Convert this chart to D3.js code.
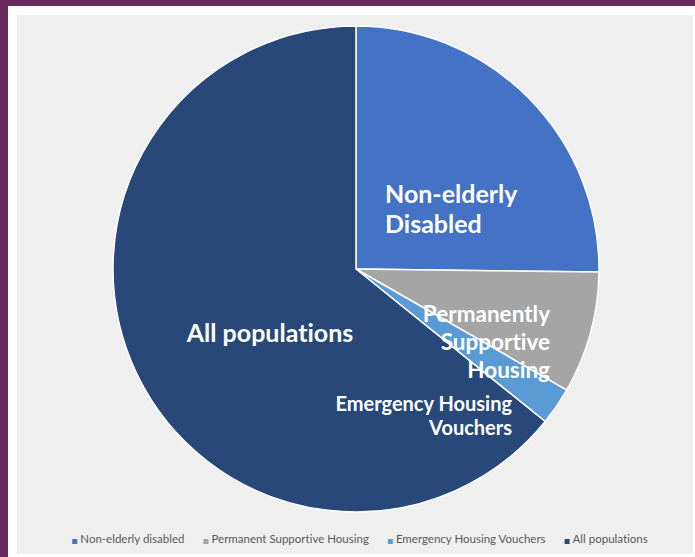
<!DOCTYPE html>
<html>
<head>
<meta charset="utf-8">
<script src="https://cdn.jsdelivr.net/npm/d3@7"></script>
<style>
  body { margin: 0; background: #ffffff; }
  svg { display: block; }
  text { font-variant-ligatures: none; }
</style>
</head>
<body>
<div id="chart"></div>
<script>
// slice shares (percent of total)
var categories = ["Non-elderly disabled", "Permanent Supportive Housing", "Emergency Housing Vouchers", "All populations"];
var values = [25.2, 8.1, 2.5, 64.2];
var colors = ["#4472c4", "#a5a5a5", "#5b9bd5", "#284879"];

// in-slice labels (multi line)
var sliceLabels = [
  ["Non-elderly", "Disabled"],
  ["Permanently", "Supportive", "Housing"],
  ["Emergency Housing", "Vouchers"],
  ["All populations"]
];

var width = 695, height = 557,
    cx = 356, cy = 269,
    radius = 243;

var svg = d3.select("#chart")
  .append("svg")
  .attr("width", width)
  .attr("height", height);

// frame: purple border, white gap, grey chart area
svg.append("rect").attr("x", 0).attr("y", 0).attr("width", width).attr("height", 6).attr("fill", "#692a5f");
svg.append("rect").attr("x", 0).attr("y", 0).attr("width", 8).attr("height", height).attr("fill", "#692a5f");
svg.append("rect").attr("x", 17).attr("y", 15).attr("width", 676).attr("height", 539).attr("fill", "#efefef");

var color = d3.scaleOrdinal().domain(categories).range(colors);

var pie = d3.pie().sort(null).value(function(d) { return d.value; });

var data = categories.map(function(c, i) {
  return { name: c, value: values[i], label: sliceLabels[i] };
});

var arc = d3.arc().innerRadius(0).outerRadius(radius);

var g = svg.append("g")
  .attr("transform", "translate(" + cx + "," + cy + ")");

g.selectAll(".slice")
  .data(pie(data))
  .enter()
  .append("path")
  .attr("class", "slice")
  .attr("d", arc)
  .attr("fill", function(d) { return color(d.data.name); })
  .attr("stroke", "#ffffff")
  .attr("stroke-width", 1.5)
  .attr("stroke-linejoin", "round");

// label placement relative to the pie centre
var labelPos = [
  { x: 29, y: -66, anchor: "start", size: 25, lh: 30 },
  { x: 194, y: 53, anchor: "end", size: 22.5, lh: 28 },
  { x: 156, y: 142, anchor: "end", size: 20, lh: 24 },
  { x: -86, y: 73, anchor: "middle", size: 25, lh: 30 }
];

var labels = g.selectAll(".lbl")
  .data(data)
  .enter()
  .append("text")
  .attr("class", "lbl")
  .attr("x", function(d, i) { return labelPos[i].x; })
  .attr("y", function(d, i) { return labelPos[i].y; })
  .attr("text-anchor", function(d, i) { return labelPos[i].anchor; })
  .style("font-family", "Lato, 'Open Sans', sans-serif")
  .style("font-weight", "bold")
  .style("font-size", function(d, i) { return labelPos[i].size + "px"; })
  .attr("fill", "#ffffff");

labels.each(function(d, i) {
  var t = d3.select(this);
  d.label.forEach(function(line, j) {
    t.append("tspan")
      .attr("x", labelPos[i].x)
      .attr("y", labelPos[i].y + j * labelPos[i].lh)
      .text(line);
  });
});

// legend along the bottom
var legend = svg.append("g").attr("class", "legend");

var items = legend.selectAll(".item")
  .data(categories)
  .enter()
  .append("g")
  .attr("class", "item");

items.append("rect")
  .attr("width", 5)
  .attr("height", 5)
  .attr("y", -4)
  .attr("fill", function(d) { return color(d); });

items.append("text")
  .attr("x", 8)
  .attr("y", 0)
  .style("font-family", "Lato, 'Open Sans', sans-serif")
  .style("font-size", "11.5px")
  .attr("fill", "#595959")
  .text(function(d) { return d; });

var gap = 19, xpos = 0, offsets = [];
items.each(function(d) {
  offsets.push(xpos);
  xpos += this.getBBox().width + gap;
});
var total = xpos - gap;
var startX = 360 - total / 2;
items.attr("transform", function(d, i) {
  return "translate(" + (startX + offsets[i]) + ",543)";
});
</script>
</body>
</html>
